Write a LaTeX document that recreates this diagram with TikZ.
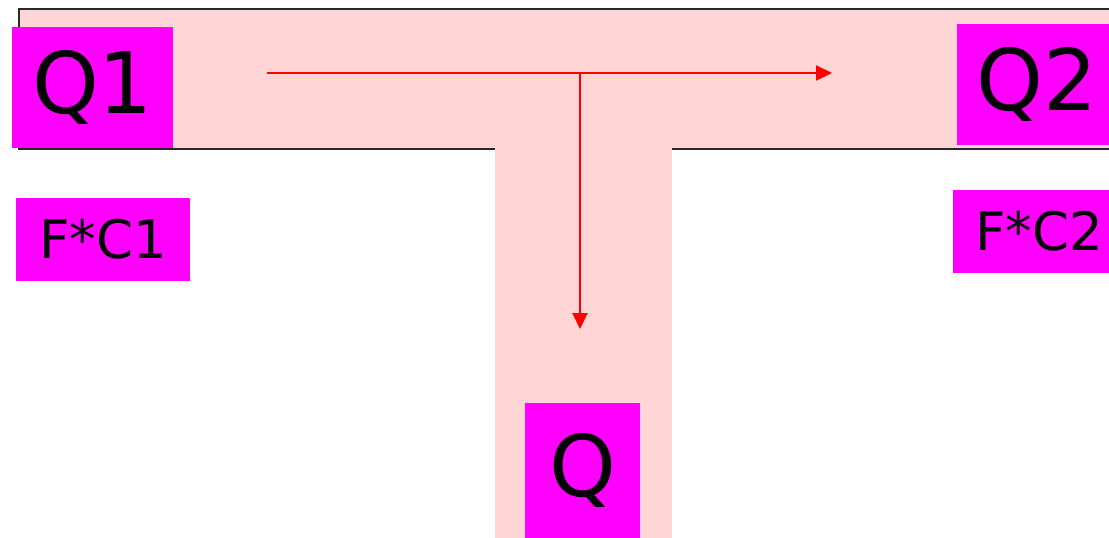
\documentclass[tikz,border=0pt]{standalone}
\usepackage{fontspec}
\setmainfont{DejaVu Sans}
\usetikzlibrary{arrows.meta}
\definecolor{pipe}{RGB}{255,213,213}
\definecolor{mag}{RGB}{255,0,255}
\definecolor{edge}{RGB}{40,40,40}
\tikzset{
  tag/.style={fill=mag, inner sep=0pt, text=black},
  big/.style={tag, font=\fontsize{85}{90}\selectfont},
  small/.style={tag, font=\fontsize{53}{58}\selectfont},
  flow/.style={draw=red, line width=2pt, -{Triangle[length=16pt,width=15pt]}},
  wall/.style={draw=edge, line width=2.5pt}
}
\begin{document}
\begin{tikzpicture}[x=1pt,y=-1pt]
\useasboundingbox (0,0) rectangle (1109,538);
\clip (0,0) rectangle (1109,538);
% pipes
\fill[pipe] (19,9) rectangle (1120,149);
\fill[pipe] (495,149) rectangle (672,545);
% walls
\draw[wall] (1120,9) -- (19,9) -- (19,149) -- (495,149);
\draw[wall] (672,149) -- (1120,149);
% flow arrows
\coordinate (s) at (267,73);
\coordinate (e) at (832,73);
\coordinate (j) at (580,73);
\coordinate (d) at (580,329);
\draw[flow] (s) -- (e);
\draw[flow] (j) -- (d);
% labels
\node[big, minimum width=161pt, minimum height=121pt] (q1) at (92.5,87.5) {Q1};
\node[big, minimum width=160pt, minimum height=121pt] (q2) at (1037,84.5) {Q2};
\node[big, minimum width=115pt, minimum height=135pt] (q) at (582.5,470.5) {Q};
\node[small, minimum width=174pt, minimum height=83pt] (fc1) at (103,239.5) {F*C1};
\node[small, minimum width=172pt, minimum height=83pt] (fc2) at (1039,231.5) {F*C2};
\end{tikzpicture}
\end{document}
